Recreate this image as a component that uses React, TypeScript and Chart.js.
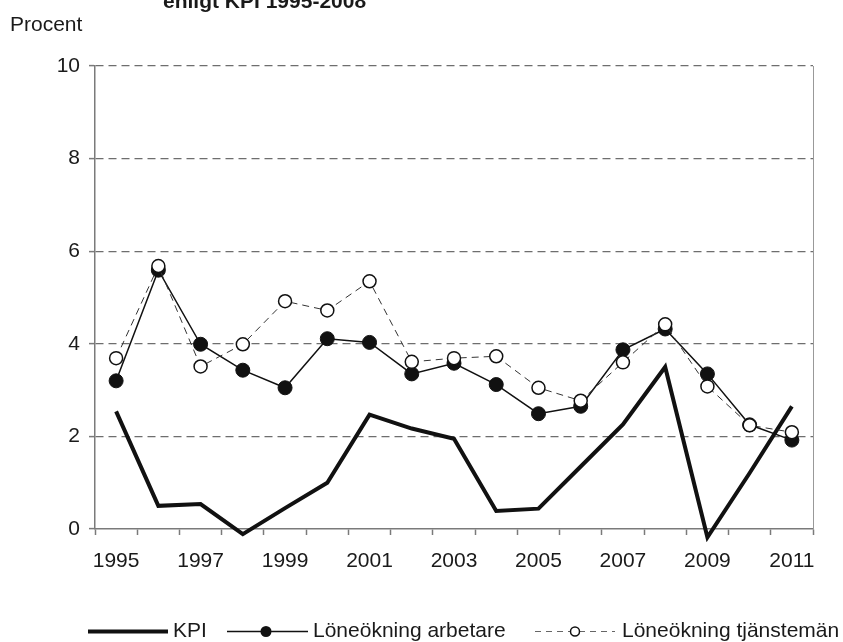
import React, { useEffect, useRef } from "react";
import { Chart, registerables } from "chart.js";

Chart.register(...registerables);

const years = ["1995","1996","1997","1998","1999","2000","2001","2002","2003","2004","2005","2006","2007","2008","2009","2010","2011"];
const kpi = [2.54, 0.50, 0.54, -0.11, 0.45, 1.00, 2.47, 2.17, 1.95, 0.39, 0.44, 1.35, 2.26, 3.50, -0.18, 1.21, 2.65];
const arbetare = [3.20, 5.59, 3.99, 3.43, 3.05, 4.11, 4.03, 3.35, 3.58, 3.12, 2.49, 2.65, 3.87, 4.32, 3.35, 2.25, 1.92];
const tjansteman = [3.69, 5.68, 3.51, 3.99, 4.92, 4.72, 5.35, 3.61, 3.69, 3.73, 3.05, 2.77, 3.60, 4.42, 3.08, 2.24, 2.09];
const seriesNames = ["KPI", "Löneökning arbetare", "Löneökning tjänstemän"];
const titleText = "enligt KPI 1995-2008";
const yAxisTitle = "Procent";
const yMin = 0;
const yMax = 10;
const yStep = 2;

const FONT = "'Liberation Sans', Arial, sans-serif";
const TEXT = "#1a1a1a";
const AXIS = "#7a7a7a";

const overlay = {
  id: "overlay",
  afterDraw(chart: any) {
    const ctx = chart.ctx;
    const area = chart.chartArea;
    ctx.save();
    // title (partially cut)
    ctx.fillStyle = TEXT;
    ctx.font = `bold 21px ${FONT}`;
    ctx.textBaseline = "alphabetic";
    ctx.textAlign = "left";
    ctx.fillText(titleText, 163, 8);
    // y axis title
    ctx.font = `21px ${FONT}`;
    ctx.fillText(yAxisTitle, 10, 31);
    // right border
    ctx.strokeStyle = "#999";
    ctx.lineWidth = 1;
    ctx.beginPath();
    ctx.moveTo(area.right + 0.5, area.top);
    ctx.lineTo(area.right + 0.5, area.bottom);
    ctx.stroke();

    // legend
    const ly = 631.5;
    const base = 637;
    ctx.font = `21px ${FONT}`;
    // KPI
    ctx.strokeStyle = "#111";
    ctx.lineWidth = 4;
    ctx.setLineDash([]);
    ctx.beginPath();
    ctx.moveTo(88, ly);
    ctx.lineTo(168, ly);
    ctx.stroke();
    ctx.fillText(seriesNames[0], 173, base);
    // arbetare
    ctx.lineWidth = 1.5;
    ctx.beginPath();
    ctx.moveTo(227, ly);
    ctx.lineTo(308, ly);
    ctx.stroke();
    ctx.fillStyle = "#111";
    ctx.beginPath();
    ctx.arc(266, ly, 5.5, 0, Math.PI * 2);
    ctx.fill();
    ctx.fillStyle = TEXT;
    ctx.fillText(seriesNames[1], 313, base);
    // tjansteman
    ctx.strokeStyle = "#666";
    ctx.lineWidth = 1.2;
    ctx.setLineDash([6, 5]);
    ctx.beginPath();
    ctx.moveTo(535, ly);
    ctx.lineTo(615, ly);
    ctx.stroke();
    ctx.setLineDash([]);
    ctx.fillStyle = "#fff";
    ctx.strokeStyle = "#111";
    ctx.lineWidth = 1.5;
    ctx.beginPath();
    ctx.arc(575, ly, 4.5, 0, Math.PI * 2);
    ctx.fill();
    ctx.stroke();
    ctx.fillStyle = TEXT;
    ctx.fillText(seriesNames[2], 622, base);
    ctx.restore();
  },
};

export default function App() {
  const ref = useRef<HTMLCanvasElement | null>(null);
  useEffect(() => {
    if (!ref.current) return;
    Chart.defaults.font.family = FONT;
    const chart = new Chart(ref.current, {
      type: "line",
      data: {
        labels: years,
        datasets: [
          {
            label: seriesNames[2],
            data: tjansteman,
            borderColor: "#333",
            borderWidth: 1,
            borderDash: [7, 5],
            pointRadius: 6.5,
            pointBackgroundColor: "#fff",
            pointBorderColor: "#111",
            pointBorderWidth: 1.5,
            tension: 0,
            order: 0,
          },
          {
            label: seriesNames[1],
            data: arbetare,
            borderColor: "#111",
            borderWidth: 1.5,
            pointRadius: 7,
            pointBackgroundColor: "#111",
            pointBorderColor: "#111",
            pointBorderWidth: 1,
            tension: 0,
            order: 1,
          },
          {
            label: seriesNames[0],
            data: kpi,
            borderColor: "#111",
            borderWidth: 4,
            pointRadius: 0,
            tension: 0,
            order: 2,
            clip: false as any,
          },
        ],
      },
      options: {
        responsive: false,
        animation: false,
        devicePixelRatio: 1,
        events: [],
        layout: { padding: { left: 0, top: 66, right: 30, bottom: 0 } },
        plugins: {
          legend: { display: false },
          tooltip: { enabled: false },
          title: { display: false },
        },
        scales: {
          x: {
            type: "category",
            offset: true,
            afterFit: (s: any) => {
              s.height = 113;
            },
            grid: {
              offset: true,
              drawOnChartArea: false,
              drawTicks: true,
              tickLength: 6,
              tickColor: AXIS,
              tickWidth: 1.5,
            },
            border: { display: true, color: AXIS, width: 1.5 },
            ticks: {
              autoSkip: false,
              maxRotation: 0,
              minRotation: 0,
              padding: 14,
              color: TEXT,
              font: { size: 21, family: FONT },
              callback: (_v: any, i: number) => (i % 2 === 0 ? years[i] : ""),
            },
          },
          y: {
            min: yMin,
            max: yMax,
            afterFit: (s: any) => {
              s.width = 95;
            },
            grid: {
              color: (c: any) => (c.tick && c.tick.value === 0 ? "rgba(0,0,0,0)" : "#6e6e6e"),
              lineWidth: 1.2,
              tickLength: 6,
              tickColor: AXIS,
              tickWidth: 1.5,
            },
            border: { display: true, color: AXIS, width: 1.5, dash: [8, 5] },
            ticks: {
              stepSize: yStep,
              padding: 9,
              color: TEXT,
              font: { size: 21, family: FONT },
            },
          },
        },
      },
      plugins: [overlay],
    });
    return () => chart.destroy();
  }, []);
  return (
    <div style={{ position: "absolute", left: 0, top: 0, width: 843, height: 642, background: "#fff" }}>
      <canvas ref={ref} width={843} height={642} style={{ display: "block", width: 843, height: 642 }} />
    </div>
  );
}
